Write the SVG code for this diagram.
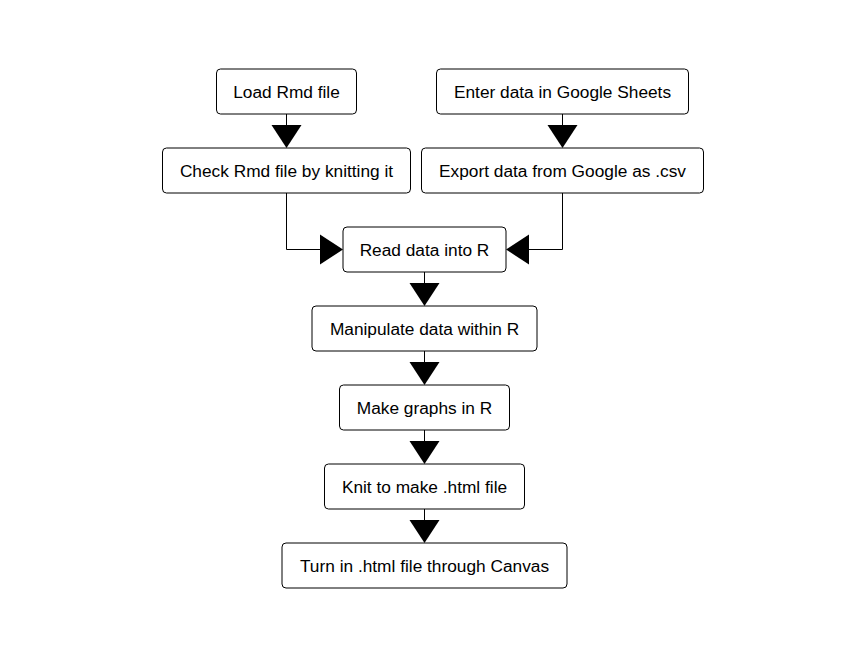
<svg xmlns="http://www.w3.org/2000/svg" width="849" height="658" viewBox="0 0 849 658">
<style>
.box{fill:#fff;stroke:#000;stroke-width:1}
.lbl{font-family:"Liberation Sans",Arial,sans-serif;font-size:17.3px;fill:#000;text-anchor:middle}
.ln{fill:none;stroke:#000;stroke-width:1}
.ah{fill:#000;stroke:none}
</style>
<rect width="849" height="658" fill="#fff"/>
<g id="connectors">
<path class="ln" d="M286.5 114V125"/><path class="ah" d="M271.5 125H301.5L286.5 148Z"/>
<path class="ln" d="M562.5 114V125"/><path class="ah" d="M547.5 125H577.5L562.5 148Z"/>
<path class="ln" d="M286.5 193V249.5H320"/><path class="ah" d="M320 234.5V264.5L343 249.5Z"/>
<path class="ln" d="M562.5 193V249.5H529"/><path class="ah" d="M529 234.5V264.5L506 249.5Z"/>
<path class="ln" d="M424.5 272V283"/><path class="ah" d="M409.5 283H439.5L424.5 306Z"/>
<path class="ln" d="M424.5 351V362"/><path class="ah" d="M409.5 362H439.5L424.5 385Z"/>
<path class="ln" d="M424.5 430V441"/><path class="ah" d="M409.5 441H439.5L424.5 464Z"/>
<path class="ln" d="M424.5 509V520"/><path class="ah" d="M409.5 520H439.5L424.5 543Z"/>
</g>
<g id="load"><rect class="box" x="216.5" y="69" width="140" height="45" rx="4"/><text class="lbl" x="286.5" y="97.5">Load Rmd file</text></g>
<g id="enter"><rect class="box" x="436.5" y="69" width="252" height="45" rx="4"/><text class="lbl" x="562.5" y="97.5">Enter data in Google Sheets</text></g>
<g id="check"><rect class="box" x="162.5" y="148" width="248" height="45" rx="4"/><text class="lbl" x="286.5" y="176.5">Check Rmd file by knitting it</text></g>
<g id="export"><rect class="box" x="421.5" y="148" width="282" height="45" rx="4"/><text class="lbl" x="562.5" y="176.5">Export data from Google as .csv</text></g>
<g id="read"><rect class="box" x="343" y="227" width="163" height="45" rx="4"/><text class="lbl" x="424.5" y="255.5">Read data into R</text></g>
<g id="manipulate"><rect class="box" x="312" y="306" width="225" height="45" rx="4"/><text class="lbl" x="424.5" y="334.5">Manipulate data within R</text></g>
<g id="graphs"><rect class="box" x="339.5" y="385" width="170" height="45" rx="4"/><text class="lbl" x="424.5" y="413.5">Make graphs in R</text></g>
<g id="knit"><rect class="box" x="324.5" y="464" width="200" height="45" rx="4"/><text class="lbl" x="424.5" y="492.5">Knit to make .html file</text></g>
<g id="turnin"><rect class="box" x="282" y="543" width="285" height="45" rx="4"/><text class="lbl" x="424.5" y="571.5">Turn in .html file through Canvas</text></g>
</svg>
